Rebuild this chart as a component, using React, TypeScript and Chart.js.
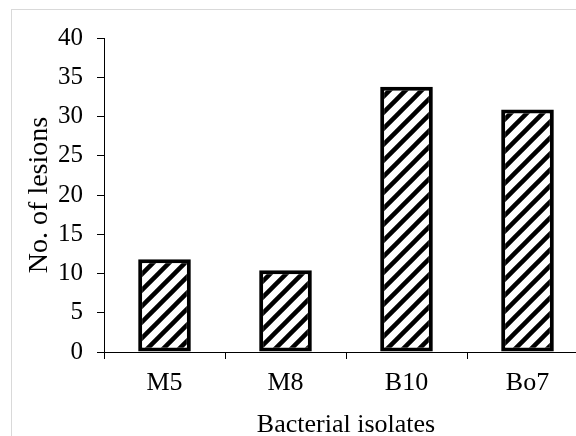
import React, { useEffect, useRef } from "react";
import { Chart, registerables } from "chart.js";

Chart.register(...registerables);

const categories: string[] = ["M5", "M8", "B10", "Bo7"];
const lesions: number[] = [11.8, 10.4, 33.8, 30.9];
const yTicks: number[] = [0, 5, 10, 15, 20, 25, 30, 35, 40];
const xTitle = "Bacterial isolates";
const yTitle = "No. of lesions";

const FONT = "'Liberation Serif', 'Times New Roman', serif";

function makeHatch(): CanvasPattern | string {
  const size = 16;
  const c = document.createElement("canvas");
  c.width = size;
  c.height = size;
  const g = c.getContext("2d");
  if (!g) return "#fff";
  g.fillStyle = "#ffffff";
  g.fillRect(0, 0, size, size);
  g.strokeStyle = "#000000";
  g.lineWidth = 4.5;
  g.lineCap = "square";
  g.beginPath();
  g.moveTo(-4, size + 4);
  g.lineTo(size + 4, -4);
  g.moveTo(-4, 4);
  g.lineTo(4, -4);
  g.moveTo(size - 4, size + 4);
  g.lineTo(size + 4, size - 4);
  g.stroke();
  const p = g.createPattern(c, "repeat");
  return p || "#fff";
}

export default function App() {
  const ref = useRef<HTMLCanvasElement | null>(null);

  useEffect(() => {
    if (!ref.current) return;
    const hatch = makeHatch();
    const chart = new Chart(ref.current, {
      type: "bar",
      data: {
        labels: categories,
        datasets: [
          {
            data: lesions,
            backgroundColor: hatch as any,
            borderColor: "#000000",
            borderWidth: 4,
            borderSkipped: false,
            barPercentage: 0.435,
            categoryPercentage: 1,
          },
        ],
      },
      options: {
        animation: false,
        responsive: false,
        maintainAspectRatio: false,
        devicePixelRatio: 1,
        layout: { padding: { left: 0, top: 38, right: 12, bottom: 0 } },
        plugins: {
          legend: { display: false },
          tooltip: { enabled: false },
        },
        scales: {
          x: {
            grid: {
              display: true,
              drawOnChartArea: false,
              drawTicks: true,
              tickLength: 7,
              color: "#000000",
              lineWidth: 1,
              offset: true,
            },
            border: { display: true, color: "#000000", width: 1 },
            ticks: {
              color: "#000000",
              font: { family: FONT, size: 26 },
              padding: 9,
            },
            title: {
              display: true,
              text: xTitle,
              color: "#000000",
              font: { family: FONT, size: 26, lineHeight: 0.85 },
              padding: { top: 0, bottom: 0 },
            },
            afterFit: (s: any) => {
              s.height = 84;
            },
          },
          y: {
            min: 0,
            max: 40,
            afterBuildTicks: (s: any) => {
              s.ticks = yTicks.map((v) => ({ value: v }));
            },
            grid: {
              display: true,
              drawOnChartArea: false,
              drawTicks: true,
              tickLength: 7,
              color: "#000000",
              lineWidth: 1,
            },
            border: { display: true, color: "#000000", width: 1 },
            ticks: {
              color: "#000000",
              font: { family: FONT, size: 25 },
              padding: 14,
            },
            title: {
              display: true,
              text: yTitle,
              color: "#000000",
              font: { family: FONT, size: 28, lineHeight: 1 },
              padding: { top: 26, bottom: 0 },
            },
            afterFit: (s: any) => {
              s.width = 104;
            },
          },
        },
      },
    });
    return () => chart.destroy();
  }, []);

  return (
    <div
      style={{
        position: "fixed",
        left: 0,
        top: 0,
        width: 576,
        height: 436,
        overflow: "hidden",
        background: "#ffffff",
      }}
    >
      <div
        style={{
          position: "absolute",
          left: 11,
          top: 9,
          width: 640,
          height: 520,
          border: "1px solid #d9d9d9",
          boxSizing: "border-box",
        }}
      />
      <canvas
        ref={ref}
        width={600}
        height={436}
        style={{ position: "absolute", left: 0, top: 0, width: 600, height: 436 }}
      />
    </div>
  );
}
